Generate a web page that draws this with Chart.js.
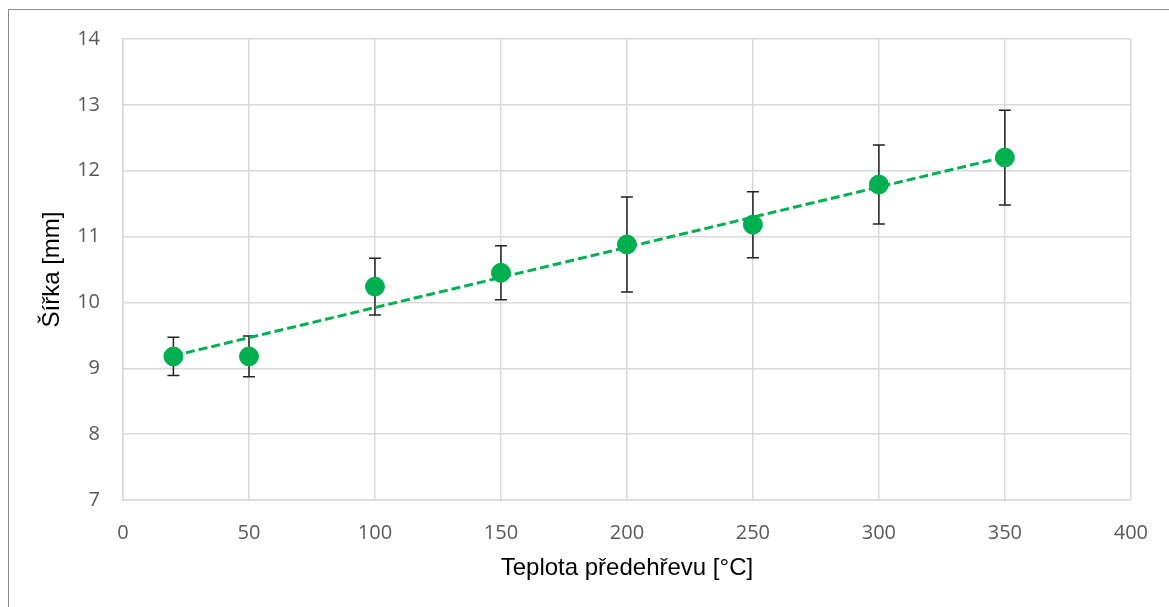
<!DOCTYPE html>
<html>
<head>
<meta charset="utf-8">
<script src="https://cdn.jsdelivr.net/npm/chart.js@4.4.1/dist/chart.umd.min.js"></script>
<style>
  html, body { margin: 0; padding: 0; background: #fff; }
  .wrap { position: relative; width: 1169px; height: 607px; }
  .frame { position: absolute; left: 8px; top: 9px; right: 0; bottom: 0;
           border-left: 1px solid #8c8c8c; border-top: 1px solid #8c8c8c; }
  canvas { position: absolute; left: 0; top: 0; }
</style>
</head>
<body>
<div class="wrap">
  <div class="frame"></div>
  <canvas id="myChart" width="1169" height="607"></canvas>
</div>
<script>
// data
const temps = [20, 50, 100, 150, 200, 250, 300, 350];
const widths = [9.18, 9.18, 10.24, 10.45, 10.88, 11.18, 11.79, 12.2];
const errors = [0.29, 0.31, 0.43, 0.41, 0.72, 0.5, 0.6, 0.72];

// trend line end points
const trendX = [20, 350];
const trendY = [9.19, 12.21];

const xTicks = [0, 50, 100, 150, 200, 250, 300, 350, 400];
const yTicks = [7, 8, 9, 10, 11, 12, 13, 14];

const green = '#00B050';
const gridColor = '#d9d9d9';

const errorBars = {
  id: 'errorBars',
  beforeDatasetsDraw(chart) {
    const ctx = chart.ctx;
    const xs = chart.scales.x;
    const ys = chart.scales.y;
    ctx.save();
    ctx.strokeStyle = '#222';
    ctx.lineWidth = 1.5;
    temps.forEach((t, i) => {
      const px = xs.getPixelForValue(t);
      const top = ys.getPixelForValue(widths[i] + errors[i]);
      const bot = ys.getPixelForValue(widths[i] - errors[i]);
      ctx.beginPath();
      ctx.moveTo(px, top); ctx.lineTo(px, bot);
      ctx.moveTo(px - 6, top); ctx.lineTo(px + 6, top);
      ctx.moveTo(px - 6, bot); ctx.lineTo(px + 6, bot);
      ctx.stroke();
    });
    ctx.restore();
  }
};

const ctx = document.getElementById('myChart').getContext('2d');
const myChart = new Chart(ctx, {
  type: 'scatter',
  data: {
    datasets: [
      {
        label: 'Šířka',
        data: temps.map((t, i) => ({ x: t, y: widths[i] })),
        backgroundColor: green,
        borderColor: green,
        pointRadius: 9.5,
        pointHoverRadius: 9.5,
        order: 2
      },
      {
        type: 'line',
        label: 'trend',
        data: trendX.map((t, i) => ({ x: t, y: trendY[i] })),
        borderColor: green,
        borderWidth: 3,
        borderDash: [9, 4],
        pointRadius: 0,
        fill: false,
        order: 1
      }
    ]
  },
  options: {
    responsive: false,
    animation: false,
    layout: { padding: { left: 0, top: 39, right: 37, bottom: 0 } },
    plugins: {
      legend: { display: false },
      tooltip: { enabled: false }
    },
    scales: {
      x: {
        type: 'linear',
        min: 0, max: 400,
        afterBuildTicks(axis) { axis.ticks = xTicks.map(v => ({ value: v })); },
        afterFit(axis) { axis.height = 107; },
        grid: { color: gridColor, lineWidth: 1.5, drawTicks: false },
        border: { color: gridColor, width: 1.5 },
        ticks: { padding: 21, color: '#595959', font: { family: 'Open Sans', size: 20 } },
        title: {
          display: true,
          text: 'Teplota předehřevu [°C]',
          color: '#000',
          font: { family: 'Liberation Sans', size: 24 },
          padding: { top: 0, bottom: 24 }
        }
      },
      y: {
        min: 7, max: 14,
        afterBuildTicks(axis) { axis.ticks = yTicks.map(v => ({ value: v })); },
        afterFit(axis) { axis.width = 123; },
        grid: { color: gridColor, lineWidth: 1.5, drawTicks: false },
        border: { color: gridColor, width: 1.5 },
        ticks: { padding: 23, color: '#595959', font: { family: 'Open Sans', size: 20 } },
        title: {
          display: true,
          text: 'Šířka [mm]',
          color: '#000',
          font: { family: 'Liberation Sans', size: 24 },
          padding: { top: 38, bottom: 0 }
        }
      }
    }
  },
  plugins: [errorBars]
});
</script>
</body>
</html>
